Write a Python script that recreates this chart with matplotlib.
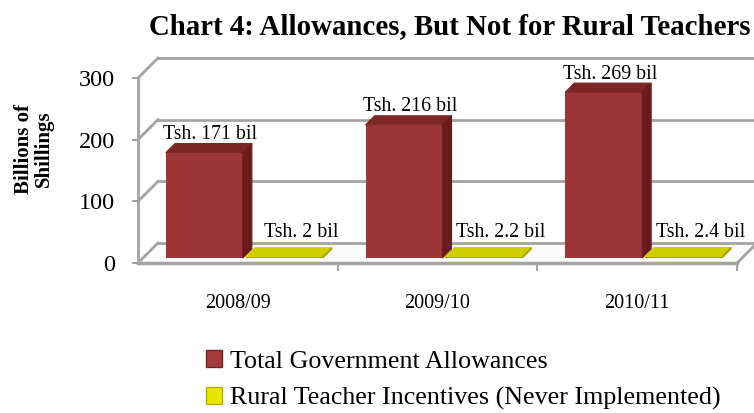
import matplotlib
matplotlib.use('Agg')
import matplotlib.pyplot as plt
from matplotlib.patches import Polygon, Patch
import numpy as np

# chart data
years = ['2008/09', '2009/10', '2010/11']
total_allowances = [171, 216, 269]
rural_incentives = [2, 2.2, 2.4]
y_ticks = [0, 100, 200, 300]

plt.rcParams['font.family'] = ['Liberation Serif', 'DejaVu Serif']

RED_FRONT = '#9d3636'
RED_TOP = '#7e2626'
RED_SIDE = '#6a1c1c'
YEL_FRONT = '#9c9c00'
YEL_TOP = '#cfcf00'
YEL_SIDE = '#a8a800'
GRID = '#a3a3a3'

WALL = 20        # depth of the plot box, in pixels
BAR_FRONT = 5    # bar front face depth
BAR_BACK = 14    # bar back face depth
BAR_W = 0.385

fig = plt.figure(figsize=(7.54, 4.13), dpi=100)
ax = fig.add_axes([138 / 754, 150 / 413, 599 / 754, 185 / 413])
ax.set_xlim(-0.5, 2.5)
ax.set_ylim(0, 300)

# one pixel in data units, for the oblique depth direction
px_x = 3.0 / ax.bbox.width
px_y = 300.0 / ax.bbox.height


def sh(x, y, d):
    return (x + d * px_x, y + d * px_y)


# floor
floor = Polygon([(-0.5, 0), (2.5, 0), sh(2.5, 0, WALL), sh(-0.5, 0, WALL)],
                closed=True, facecolor='#fbfbfb', edgecolor='none',
                zorder=1, clip_on=False)
ax.add_patch(floor)
ax.plot([2.5, sh(2.5, 0, WALL)[0]], [0, sh(2.5, 0, WALL)[1]],
        color=GRID, lw=2, clip_on=False, zorder=2)

# back wall gridlines and side wall diagonals
for t in y_ticks:
    x0, y0 = sh(-0.5, t, WALL)
    x1, y1 = sh(2.5, t, WALL)
    ax.plot([x0, x1], [y0, y1], color=GRID, lw=2, clip_on=False, zorder=2)
    ax.plot([-0.5, x0], [t, y0], color=GRID, lw=2, clip_on=False, zorder=2)


def draw_bars(lefts, values, front, top, side):
    ax.bar(lefts + BAR_FRONT * px_x, values, width=BAR_W,
           bottom=BAR_FRONT * px_y, align='edge', color=front,
           zorder=4, clip_on=False)
    for l, v in zip(lefts, values):
        r = l + BAR_W
        top_face = [sh(l, v, BAR_FRONT), sh(r, v, BAR_FRONT),
                    sh(r, v, BAR_BACK), sh(l, v, BAR_BACK)]
        side_face = [sh(r, 0, BAR_FRONT), sh(r, 0, BAR_BACK),
                     sh(r, v, BAR_BACK), sh(r, v, BAR_FRONT)]
        ax.add_patch(Polygon(top_face, closed=True, facecolor=top,
                             edgecolor=top, lw=0.8, joinstyle='round',
                             zorder=4, clip_on=False))
        ax.add_patch(Polygon(side_face, closed=True, facecolor=side,
                             edgecolor=side, lw=0.8, zorder=4, clip_on=False))


x = np.arange(len(years))
red_left = x - BAR_W
yel_left = x + 0.015
draw_bars(red_left, total_allowances, RED_FRONT, RED_TOP, RED_SIDE)
draw_bars(yel_left, rural_incentives, YEL_FRONT, YEL_TOP, YEL_SIDE)

# value labels
for l, v in zip(red_left, total_allowances):
    ax.annotate('Tsh. %g bil' % v, (l + BAR_W / 2, v), xytext=(11, 23),
                textcoords='offset pixels', ha='center', va='center',
                fontsize=14.3, zorder=5, annotation_clip=False)
for l, v in zip(yel_left, rural_incentives):
    ax.annotate('Tsh. %g bil' % v, (l + BAR_W / 2, v), xytext=(22, 29),
                textcoords='offset pixels', ha='center', va='center',
                fontsize=14.3, zorder=5, annotation_clip=False)

# axes
for s in ['top', 'right']:
    ax.spines[s].set_visible(False)
ax.spines['left'].set_color(GRID)
ax.spines['left'].set_linewidth(2)
ax.spines['bottom'].set_color(GRID)
ax.spines['bottom'].set_linewidth(2.5)
ax.spines['left'].set_zorder(3)
ax.spines['bottom'].set_zorder(3)

ax.set_yticks(y_ticks)
ax.tick_params(axis='y', length=4.5, width=1.5, color=GRID, pad=12,
               labelsize=17.5)
ax.set_xticks(x, years)
ax.set_xticks([0.5, 1.5, 2.5], minor=True)
ax.tick_params(axis='x', which='major', length=0, pad=22, labelsize=14.5)
ax.tick_params(axis='x', which='minor', length=6, width=1.5, color=GRID)
ax.set_facecolor('none')

fig.text(450 / 754, 1 - 27 / 413, 'Chart 4: Allowances, But Not for Rural Teachers',
         ha='center', va='center', fontsize=20.8, fontweight='bold')
fig.text(34 / 754, 1 - 149 / 413, 'Billions of\nShillings', rotation=90,
         ha='center', va='center', multialignment='center',
         fontsize=15, fontweight='bold', linespacing=1.05)

handles = [Patch(facecolor='#a23c3c', edgecolor='#7a2020'),
           Patch(facecolor='#e6e600', edgecolor='#b0b000')]
fig.legend(handles, ['Total Government Allowances',
                     'Rural Teacher Incentives (Never Implemented)'],
           loc='upper left', bbox_to_anchor=(196 / 754, 1 - 340 / 413),
           frameon=False, fontsize=18.7, handlelength=0.6, handleheight=0.6,
           handletextpad=0.3, labelspacing=0.55, borderaxespad=0)

fig.savefig('out.png', dpi=100)
